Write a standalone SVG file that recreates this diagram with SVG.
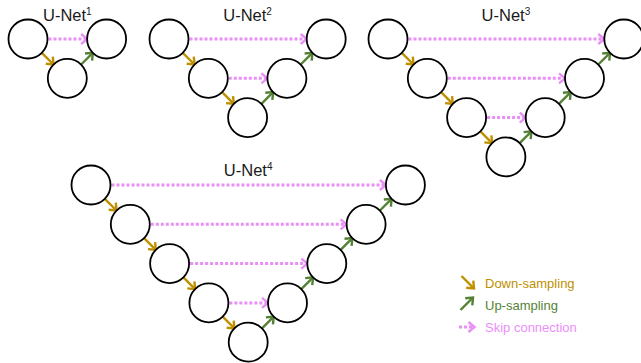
<svg xmlns="http://www.w3.org/2000/svg" width="641" height="363" viewBox="0 0 641 363">
<style>
.n{fill:#fff;stroke:#000;stroke-width:1.8}
.d{stroke:#BF9000;stroke-width:2.4;fill:none;marker-end:url(#ad)}
.u{stroke:#548235;stroke-width:2.4;fill:none;marker-end:url(#au)}
.s{stroke:#EA8FF8;stroke-width:3;stroke-dasharray:3 2;fill:none;marker-end:url(#as)}
.t{font-family:"Liberation Sans",Arial,sans-serif;font-size:16.5px;fill:#1a1a1a;text-anchor:middle}
.l{font-family:"Liberation Sans",Arial,sans-serif;font-size:13px}
</style>
<defs>
<marker id="ad" markerUnits="userSpaceOnUse" viewBox="-1 -1 9 12" markerWidth="9" markerHeight="12" refX="6" refY="5" orient="auto" overflow="visible"><path d="M0,0 L6,5 L0,10" fill="none" stroke="#BF9000" stroke-width="2.4"/></marker>
<marker id="au" markerUnits="userSpaceOnUse" viewBox="-1 -1 9 12" markerWidth="9" markerHeight="12" refX="6" refY="5" orient="auto" overflow="visible"><path d="M0,0 L6,5 L0,10" fill="none" stroke="#548235" stroke-width="2.4"/></marker>
<marker id="as" markerUnits="userSpaceOnUse" viewBox="-1 -1 9 12" markerWidth="9" markerHeight="12" refX="6" refY="5" orient="auto" overflow="visible"><path d="M0,0 L6,5 L0,10" fill="none" stroke="#EA8FF8" stroke-width="2.4"/></marker>
</defs>

<g id="titles">
<text class="t" x="67.3" y="21">U-Net<tspan dy="-6" font-size="10">1</tspan></text>
<text class="t" x="247.6" y="21">U-Net<tspan dy="-6" font-size="10">2</tspan></text>
<text class="t" x="505.9" y="21">U-Net<tspan dy="-6" font-size="10">3</tspan></text>
<text class="t" x="248.2" y="176">U-Net<tspan dy="-6" font-size="10">4</tspan></text>
</g>

<g id="connectors">
<path class="d" d="M41.8,52.8 L53.5,64.5"/>
<path class="u" d="M81.1,64.5 L92.8,52.8"/>
<path class="s" d="M48.5,39 L87.1,39"/>
<path class="d" d="M182.8,52.8 L194.5,64.5"/>
<path class="d" d="M222.1,92.1 L233.8,103.8"/>
<path class="u" d="M261.4,103.8 L273.1,92.1"/>
<path class="u" d="M300.7,64.5 L312.4,52.8"/>
<path class="s" d="M189.5,39 L306.7,39"/>
<path class="s" d="M228.8,78.3 L267.4,78.3"/>
<path class="d" d="M401.8,52.8 L413.5,64.5"/>
<path class="d" d="M441.1,92.1 L452.8,103.8"/>
<path class="d" d="M480.4,131.4 L492.1,143.1"/>
<path class="u" d="M519.7,143.1 L531.4,131.4"/>
<path class="u" d="M559,103.8 L570.7,92.1"/>
<path class="u" d="M598.3,64.5 L610,52.8"/>
<path class="s" d="M408.5,39 L604.3,39"/>
<path class="s" d="M447.8,78.3 L565,78.3"/>
<path class="s" d="M487.1,117.6 L525.7,117.6"/>
<path class="d" d="M104.8,198.8 L116.5,210.5"/>
<path class="d" d="M144.1,238.1 L155.8,249.8"/>
<path class="d" d="M183.4,277.4 L195.1,289.1"/>
<path class="d" d="M222.7,316.7 L234.4,328.4"/>
<path class="u" d="M262,328.4 L273.7,316.7"/>
<path class="u" d="M301.3,289.1 L313,277.4"/>
<path class="u" d="M340.6,249.8 L352.3,238.1"/>
<path class="u" d="M379.9,210.5 L391.6,198.8"/>
<path class="s" d="M111.5,185 L385.9,185"/>
<path class="s" d="M150.8,224.3 L346.6,224.3"/>
<path class="s" d="M190.1,263.6 L307.3,263.6"/>
<path class="s" d="M229.4,302.9 L268,302.9"/>
</g>

<g id="unet1">
<circle class="n" cx="28" cy="39" r="19.5"/>
<circle class="n" cx="67.3" cy="78.3" r="19.5"/>
<circle class="n" cx="106.6" cy="39" r="19.5"/>
</g>
<g id="unet2">
<circle class="n" cx="169" cy="39" r="19.5"/>
<circle class="n" cx="208.3" cy="78.3" r="19.5"/>
<circle class="n" cx="247.6" cy="117.6" r="19.5"/>
<circle class="n" cx="286.9" cy="78.3" r="19.5"/>
<circle class="n" cx="326.2" cy="39" r="19.5"/>
</g>
<g id="unet3">
<circle class="n" cx="388" cy="39" r="19.5"/>
<circle class="n" cx="427.3" cy="78.3" r="19.5"/>
<circle class="n" cx="466.6" cy="117.6" r="19.5"/>
<circle class="n" cx="505.9" cy="156.9" r="19.5"/>
<circle class="n" cx="545.2" cy="117.6" r="19.5"/>
<circle class="n" cx="584.5" cy="78.3" r="19.5"/>
<circle class="n" cx="623.8" cy="39" r="19.5"/>
</g>
<g id="unet4">
<circle class="n" cx="91" cy="185" r="19.5"/>
<circle class="n" cx="130.3" cy="224.3" r="19.5"/>
<circle class="n" cx="169.6" cy="263.6" r="19.5"/>
<circle class="n" cx="208.9" cy="302.9" r="19.5"/>
<circle class="n" cx="248.2" cy="342.2" r="19.5"/>
<circle class="n" cx="287.5" cy="302.9" r="19.5"/>
<circle class="n" cx="326.8" cy="263.6" r="19.5"/>
<circle class="n" cx="366.1" cy="224.3" r="19.5"/>
<circle class="n" cx="405.4" cy="185" r="19.5"/>
</g>

<g id="legend">
<path class="d" d="M461.5,276 L474,288.5"/>
<text class="l" x="485" y="288" fill="#BF9000">Down-sampling</text>
<path class="u" d="M460.5,310 L473,297.5"/>
<text class="l" x="485" y="310" fill="#548235">Up-sampling</text>
<path class="s" d="M459,327 L474.5,327"/>
<text class="l" x="485" y="331.5" fill="#EA8FF8">Skip connection</text>
</g>
</svg>
